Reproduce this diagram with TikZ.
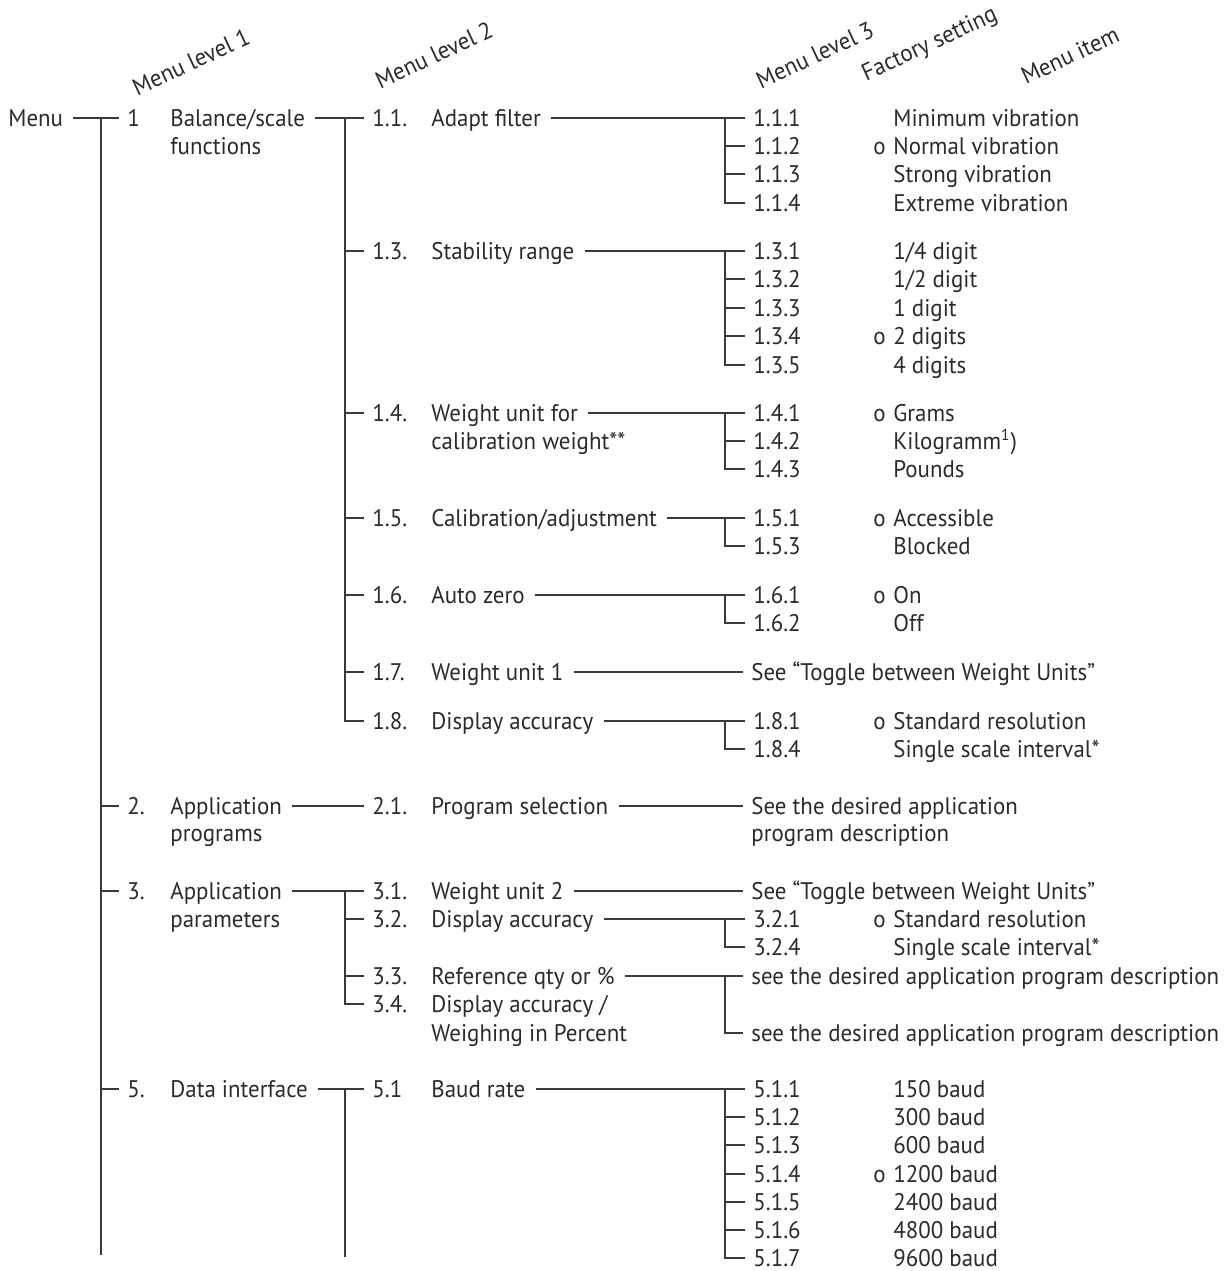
\documentclass[tikz,border=0pt]{standalone}
\usepackage{fontspec}
\setmainfont{PT Sans}[FakeStretch=0.955]
\usepackage{tikz}
\usetikzlibrary{positioning}
\definecolor{ink}{HTML}{2B2B2B}
\definecolor{wirecol}{HTML}{3A3A3A}
\tikzset{
    txt/.style={
        anchor=west, inner xsep=1.5pt, inner ysep=0pt,
        text height=8.5pt, text depth=0pt, text=ink,
        font=\fontsize{12}{14}\selectfont
    },
    colhead/.style={
        rotate=25, inner sep=0pt, text=ink,
        font=\fontsize{12}{14}\selectfont
    },
    wire/.style={draw=wirecol, line width=0.6pt, shorten >=2.5pt},
    wirefrom/.style={shorten <=3.5pt},
}

\begin{document}
\begin{tikzpicture}[x=0.5pt, y=-0.5pt]
    \fill[white] (0,0) rectangle (1228,1271);
    \useasboundingbox (0,0) rectangle (1228,1271);

    % column heads
    \node[colhead] (h1) at (191,62) {Menu level 1};
    \node[colhead] (h2) at (434,55) {Menu level 2};
    \node[colhead] (h3) at (815,55) {Menu level 3};
    \node[colhead] (h4) at (930,45) {Factory setting};
    \node[colhead] (h5) at (1070,55) {Menu item};

    % menu level 1
    \node[txt] (menu) at (5,118) {Menu};
    \coordinate (j0) at (101,118);
    \coordinate (e0) at (101,1260);
    \node[txt] (n1) at (124,118) {1};
    \node[txt] (l1) at (167,118) {Balance/scale};
    \node[txt] (l1b) at (167,146) {functions};
    \node[txt] (n2) at (124,806) {2.};
    \node[txt] (l2) at (167,806) {Application};
    \node[txt] (l2b) at (167,833) {programs};
    \node[txt] (n3) at (124,891) {3.};
    \node[txt] (l3) at (167,891) {Application};
    \node[txt] (l3b) at (167,919) {parameters};
    \node[txt] (n5) at (124,1089) {5.};
    \node[txt] (l5) at (167,1089) {Data interface};
    \draw[wire, wirefrom] (menu.east) -- (n1.west);
    \draw[wire] (j0) -- (e0);
    \draw[wire] (n2.west -| j0) -- (n2.west);
    \draw[wire] (n3.west -| j0) -- (n3.west);
    \draw[wire] (n5.west -| j0) -- (n5.west);

    % menu level 2, balance/scale functions
    \coordinate (j1) at (345,118);
    \node[txt] (n11) at (369,118) {1.1.};
    \node[txt] (l11) at (428,118) {Adapt filter};
    \node[txt] (n13) at (369,251) {1.3.};
    \node[txt] (l13) at (428,251) {Stability range};
    \node[txt] (n14) at (369,413) {1.4.};
    \node[txt] (l14) at (428,413) {Weight unit for};
    \node[txt] (l14b) at (428,441) {calibration weight**};
    \node[txt] (n15) at (369,518) {1.5.};
    \node[txt] (l15) at (428,518) {Calibration/adjustment};
    \node[txt] (n16) at (369,595) {1.6.};
    \node[txt] (l16) at (428,595) {Auto zero};
    \node[txt] (n17) at (369,672) {1.7.};
    \node[txt] (l17) at (428,672) {Weight unit 1};
    \node[txt] (n18) at (369,721) {1.8.};
    \node[txt] (l18) at (428,721) {Display accuracy};
    \draw[wire, wirefrom] (l1.east) -- (n11.west);
    \draw[wire] (n13.west -| j1) -- (n13.west);
    \draw[wire] (n14.west -| j1) -- (n14.west);
    \draw[wire] (n15.west -| j1) -- (n15.west);
    \draw[wire] (n16.west -| j1) -- (n16.west);
    \draw[wire] (n17.west -| j1) -- (n17.west);
    \draw[wire] (j1) |- (n18.west);

    % menu level 2, application programs
    \node[txt] (n21) at (369,806) {2.1.};
    \node[txt] (l21) at (428,806) {Program selection};
    \draw[wire, wirefrom] (l2.east) -- (n21.west);

    % menu level 2, application parameters
    \coordinate (j3) at (345,891);
    \node[txt] (n31) at (369,891) {3.1.};
    \node[txt] (l31) at (428,891) {Weight unit 2};
    \node[txt] (n32) at (369,919) {3.2.};
    \node[txt] (l32) at (428,919) {Display accuracy};
    \node[txt] (n33) at (369,976) {3.3.};
    \node[txt] (l33) at (428,976) {Reference qty or \%};
    \node[txt] (n34) at (369,1004) {3.4.};
    \node[txt] (l34) at (428,1004) {Display accuracy /};
    \node[txt] (l34b) at (428,1033) {Weighing in Percent};
    \draw[wire, wirefrom] (l3.east) -- (n31.west);
    \draw[wire] (n32.west -| j3) -- (n32.west);
    \draw[wire] (n33.west -| j3) -- (n33.west);
    \draw[wire] (j3) |- (n34.west);

    % menu level 2, data interface
    \coordinate (j5) at (345,1089);
    \coordinate (e5) at (345,1262);
    \node[txt] (n51) at (369,1089) {5.1};
    \node[txt] (l51) at (428,1089) {Baud rate};
    \draw[wire, wirefrom] (l5.east) -- (n51.west);
    \draw[wire] (j5) -- (e5);

    % menu level 3, 1.1.
    \coordinate (j11) at (725,118);
    \node[txt] (m111) at (750,118) {1.1.1};
    \node[txt] (m112) at (750,146) {1.1.2};
    \node[txt] (m113) at (750,174) {1.1.3};
    \node[txt] (m114) at (750,203) {1.1.4};
    \node[txt] (d112) at (870,146) {o};
    \node[txt] (i111) at (890,118) {Minimum vibration};
    \node[txt] (i112) at (890,146) {Normal vibration};
    \node[txt] (i113) at (890,174) {Strong vibration};
    \node[txt] (i114) at (890,203) {Extreme vibration};
    \draw[wire, wirefrom] (l11.east) -- (m111.west);
    \draw[wire] (m112.west -| j11) -- (m112.west);
    \draw[wire] (m113.west -| j11) -- (m113.west);
    \draw[wire] (j11) |- (m114.west);

    % menu level 3, 1.3.
    \coordinate (j13) at (725,251);
    \node[txt] (m131) at (750,251) {1.3.1};
    \node[txt] (m132) at (750,279) {1.3.2};
    \node[txt] (m133) at (750,308) {1.3.3};
    \node[txt] (m134) at (750,336) {1.3.4};
    \node[txt] (m135) at (750,365) {1.3.5};
    \node[txt] (d134) at (870,336) {o};
    \node[txt] (i131) at (890,251) {1/4 digit};
    \node[txt] (i132) at (890,279) {1/2 digit};
    \node[txt] (i133) at (890,308) {1 digit};
    \node[txt] (i134) at (890,336) {2 digits};
    \node[txt] (i135) at (890,365) {4 digits};
    \draw[wire, wirefrom] (l13.east) -- (m131.west);
    \draw[wire] (m132.west -| j13) -- (m132.west);
    \draw[wire] (m133.west -| j13) -- (m133.west);
    \draw[wire] (m134.west -| j13) -- (m134.west);
    \draw[wire] (j13) |- (m135.west);

    % menu level 3, 1.4.
    \coordinate (j14) at (725,413);
    \node[txt] (m141) at (750,413) {1.4.1};
    \node[txt] (m142) at (750,441) {1.4.2};
    \node[txt] (m143) at (750,469) {1.4.3};
    \node[txt] (d141) at (870,413) {o};
    \node[txt] (i141) at (890,413) {Grams};
    \node[txt] (i142) at (890,441) {Kilogramm\textsuperscript{1})};
    \node[txt] (i143) at (890,469) {Pounds};
    \draw[wire, wirefrom] (l14.east) -- (m141.west);
    \draw[wire] (m142.west -| j14) -- (m142.west);
    \draw[wire] (j14) |- (m143.west);

    % menu level 3, 1.5.
    \coordinate (j15) at (725,518);
    \node[txt] (m151) at (750,518) {1.5.1};
    \node[txt] (m153) at (750,546) {1.5.3};
    \node[txt] (d151) at (870,518) {o};
    \node[txt] (i151) at (890,518) {Accessible};
    \node[txt] (i153) at (890,546) {Blocked};
    \draw[wire, wirefrom] (l15.east) -- (m151.west);
    \draw[wire] (j15) |- (m153.west);

    % menu level 3, 1.6.
    \coordinate (j16) at (725,595);
    \node[txt] (m161) at (750,595) {1.6.1};
    \node[txt] (m162) at (750,623) {1.6.2};
    \node[txt] (d161) at (870,595) {o};
    \node[txt] (i161) at (890,595) {On};
    \node[txt] (i162) at (890,623) {Off};
    \draw[wire, wirefrom] (l16.east) -- (m161.west);
    \draw[wire] (j16) |- (m162.west);

    % menu level 3, 1.7.
    \node[txt] (s17) at (748,672) {See “Toggle between Weight Units”};
    \draw[wire, wirefrom] (l17.east) -- (s17.west);

    % menu level 3, 1.8.
    \coordinate (j18) at (725,721);
    \node[txt] (m181) at (750,721) {1.8.1};
    \node[txt] (m184) at (750,749) {1.8.4};
    \node[txt] (d181) at (870,721) {o};
    \node[txt] (i181) at (890,721) {Standard resolution};
    \node[txt] (i184) at (890,749) {Single scale interval*};
    \draw[wire, wirefrom] (l18.east) -- (m181.west);
    \draw[wire] (j18) |- (m184.west);

    % menu level 3, 2.1.
    \node[txt] (s21) at (748,806) {See the desired application};
    \node[txt] (s21b) at (748,833) {program description};
    \draw[wire, wirefrom] (l21.east) -- (s21.west);

    % menu level 3, 3.1. to 3.4.
    \node[txt] (s31) at (748,891) {See “Toggle between Weight Units”};
    \draw[wire, wirefrom] (l31.east) -- (s31.west);
    \coordinate (j32) at (725,919);
    \node[txt] (m321) at (750,919) {3.2.1};
    \node[txt] (m324) at (750,947) {3.2.4};
    \node[txt] (d321) at (870,919) {o};
    \node[txt] (i321) at (890,919) {Standard resolution};
    \node[txt] (i324) at (890,947) {Single scale interval*};
    \draw[wire, wirefrom] (l32.east) -- (m321.west);
    \draw[wire] (j32) |- (m324.west);
    \coordinate (j33) at (725,976);
    \node[txt] (s33) at (748,976) {see the desired application program description};
    \node[txt] (s34) at (748,1033) {see the desired application program description};
    \draw[wire, wirefrom] (l33.east) -- (s33.west);
    \draw[wire] (j33) |- (s34.west);

    % menu level 3, 5.1
    \coordinate (j51) at (725,1089);
    \node[txt] (m511) at (750,1089) {5.1.1};
    \node[txt] (m512) at (750,1117) {5.1.2};
    \node[txt] (m513) at (750,1145) {5.1.3};
    \node[txt] (m514) at (750,1174) {5.1.4};
    \node[txt] (m515) at (750,1202) {5.1.5};
    \node[txt] (m516) at (750,1230) {5.1.6};
    \node[txt] (m517) at (750,1258) {5.1.7};
    \node[txt] (d514) at (870,1174) {o};
    \node[txt] (i511) at (890,1089) {150 baud};
    \node[txt] (i512) at (890,1117) {300 baud};
    \node[txt] (i513) at (890,1145) {600 baud};
    \node[txt] (i514) at (890,1174) {1200 baud};
    \node[txt] (i515) at (890,1202) {2400 baud};
    \node[txt] (i516) at (890,1230) {4800 baud};
    \node[txt] (i517) at (890,1258) {9600 baud};
    \draw[wire, wirefrom] (l51.east) -- (m511.west);
    \draw[wire] (m512.west -| j51) -- (m512.west);
    \draw[wire] (m513.west -| j51) -- (m513.west);
    \draw[wire] (m514.west -| j51) -- (m514.west);
    \draw[wire] (m515.west -| j51) -- (m515.west);
    \draw[wire] (m516.west -| j51) -- (m516.west);
    \draw[wire] (j51) |- (m517.west);
\end{tikzpicture}
\end{document}
